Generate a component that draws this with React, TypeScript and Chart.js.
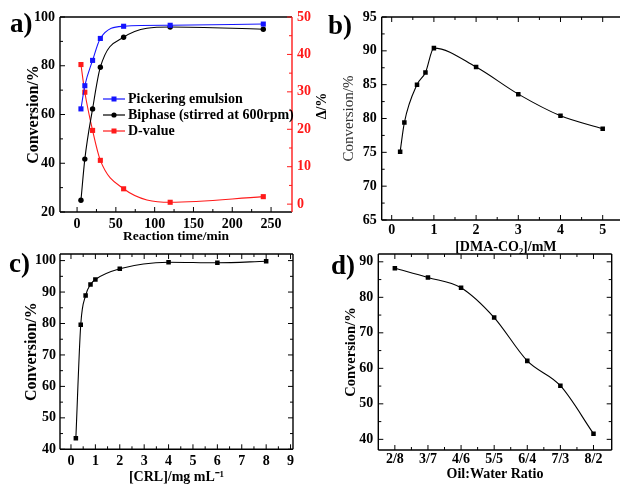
import React, { useEffect, useRef } from 'react';
import { Chart, registerables } from 'chart.js';
Chart.register(...registerables);

const FONT = "'Liberation Serif', 'Times New Roman', serif";
const BLUE = '#1414ff';
const RED = '#ff1a1a';
const BLACK = '#000000';

// ---- Panel a data ----
const timeMin = [5, 10, 20, 30, 60, 120, 240];
const pickering = [62.3, 71.8, 82.2, 91.2, 96.2, 96.6, 97.1];
const biphase = [24.8, 41.7, 62.3, 79.4, 91.7, 95.9, 95.0];
const dValue = [37.3, 29.9, 19.7, 11.7, 4.1, 0.5, 2.0];
const aTimeTicks = [0, 50, 100, 150, 200, 250];
const aTimeMinor = [25, 75, 125, 175, 225];
const aConvTicks = [20, 40, 60, 80, 100];
const aConvMinor = [30, 50, 70, 90];
const aDeltaTicks = [0, 10, 20, 30, 40, 50];
const aDeltaMinor = [5, 15, 25, 35, 45];

// ---- Panel b data ----
const dmaConc = [0.2, 0.3, 0.6, 0.8, 1, 2, 3, 4, 5];
const dmaConv = [75.1, 79.4, 85.0, 86.8, 90.4, 87.6, 83.6, 80.4, 78.5];
const bXTicks = [0, 1, 2, 3, 4, 5];
const bXMinor = [0.5, 1.5, 2.5, 3.5, 4.5, 5.5];
const bYTicks = [65, 70, 75, 80, 85, 90, 95];
const bYMinor = [67.5, 72.5, 77.5, 82.5, 87.5, 92.5];

// ---- Panel c data ----
const crlConc = [0.2, 0.4, 0.6, 0.8, 1, 2, 4, 6, 8];
const crlConv = [43.5, 79.6, 88.9, 92.4, 94.0, 97.4, 99.5, 99.3, 99.8];
const cXTicks = [0, 1, 2, 3, 4, 5, 6, 7, 8, 9];
const cXMinor = [0.5, 1.5, 2.5, 3.5, 4.5, 5.5, 6.5, 7.5, 8.5];
const cYTicks = [40, 50, 60, 70, 80, 90, 100];
const cYMinor = [45, 55, 65, 75, 85, 95];

// ---- Panel d data ----
const ratios = ['2/8', '3/7', '4/6', '5/5', '6/4', '7/3', '8/2'];
const ratioConv = [88.2, 85.6, 82.7, 74.3, 62.1, 55.1, 41.6];
const dXTicks = [0, 1, 2, 3, 4, 5, 6];
const dXMinor = [0.5, 1.5, 2.5, 3.5, 4.5, 5.5];
const dYTicks = [40, 50, 60, 70, 80, 90];
const dYMinor = [45, 55, 65, 75, 85];

const pts = (xs: number[], ys: number[]) => xs.map((x, i) => ({ x, y: ys[i] }));

function axis(o: any) {
  return {
    type: 'linear',
    position: o.position,
    min: o.min,
    max: o.max,
    grid: { display: false, drawTicks: false, tickLength: 0 },
    border: { display: false },
    afterBuildTicks: (s: any) => {
      s.ticks = o.ticks.map((v: number) => ({ value: v }));
    },
    afterFit: (s: any) => {
      if (s.isHorizontal()) s.height = o.size;
      else s.width = o.size;
    },
    ticks: {
      padding: o.pad,
      color: o.color || BLACK,
      autoSkip: false,
      maxRotation: 0,
      minRotation: 0,
      font: { family: FONT, size: 14, weight: 'bold' },
      callback: (v: number) => (o.labels ? o.labels[Math.round(v)] : String(v)),
    },
    title: o.title
      ? {
          display: true,
          text: o.title,
          padding: 0,
          color: o.titleColor || BLACK,
          font: { family: FONT, size: o.titleSize || 14, weight: o.titleWeight || 'bold' },
        }
      : { display: false },
  };
}

const framePlugin = {
  id: 'frame',
  afterDraw(chart: any, _a: any, opts: any) {
    const { ctx, chartArea } = chart;
    const { left, right, top, bottom } = chartArea;
    ctx.save();
    ctx.lineWidth = 1.4;
    const line = (x1: number, y1: number, x2: number, y2: number, c: string) => {
      ctx.strokeStyle = c;
      ctx.beginPath();
      ctx.moveTo(x1, y1);
      ctx.lineTo(x2, y2);
      ctx.stroke();
    };
    line(left, bottom, right, bottom, BLACK);
    line(left, top, left, bottom, BLACK);
    line(left, top, right, top, BLACK);
    line(right, top, right, bottom, opts.rightColor || BLACK);
    ctx.lineWidth = 1;
    const xs = chart.scales.x;
    const ys = chart.scales.y;
    const doX = (vals: number[], len: number) => {
      vals.forEach((v) => {
        const p = xs.getPixelForValue(v);
        line(p, bottom, p, bottom - len, BLACK);
        if (opts.mirror) line(p, top, p, top + len, BLACK);
      });
    };
    const doY = (vals: number[], len: number) => {
      vals.forEach((v) => {
        const p = ys.getPixelForValue(v);
        line(left, p, left + len, p, BLACK);
        if (opts.mirror) line(right, p, right - len, p, BLACK);
      });
    };
    doX(opts.xMajor, 5);
    doX(opts.xMinor, 3);
    doY(opts.yMajor, 5);
    doY(opts.yMinor, 3);
    if (opts.y2Major) {
      const y2 = chart.scales.y2;
      opts.y2Major.forEach((v: number) => {
        const p = y2.getPixelForValue(v);
        line(right - 5, p, right, p, RED);
      });
      opts.y2Minor.forEach((v: number) => {
        const p = y2.getPixelForValue(v);
        line(right - 3, p, right, p, RED);
      });
    }
    ctx.restore();
  },
};

const legendPlugin = {
  id: 'inLegend',
  afterDraw(chart: any, _a: any, opts: any) {
    const { ctx } = chart;
    ctx.save();
    ctx.font = `bold 14px ${FONT}`;
    ctx.textBaseline = 'middle';
    chart.data.datasets.forEach((ds: any, i: number) => {
      const y = opts.y + i * opts.dy;
      const c = ds.borderColor;
      ctx.strokeStyle = c;
      ctx.fillStyle = c;
      ctx.lineWidth = 1.2;
      ctx.beginPath();
      ctx.moveTo(opts.x, y);
      ctx.lineTo(opts.x + 22, y);
      ctx.stroke();
      const cx = opts.x + 11;
      if (ds.pointStyle === 'circle') {
        ctx.beginPath();
        ctx.arc(cx, y, 2.6, 0, Math.PI * 2);
        ctx.fill();
      } else {
        ctx.fillRect(cx - 2.5, y - 2.5, 5, 5);
      }
      ctx.fillStyle = BLACK;
      ctx.fillText(ds.label, opts.x + 25, y + 0.5);
    });
    ctx.restore();
  },
};

const lineDs = (label: string, data: any[], color: string, style: string, r: number, yAxisID = 'y') => ({
  label,
  data,
  yAxisID,
  borderColor: color,
  backgroundColor: color,
  pointStyle: style,
  pointRadius: r,
  pointBorderWidth: 0,
  showLine: true,
  borderWidth: 1.1,
  cubicInterpolationMode: 'monotone',
});

const baseOpts = (padding: any) => ({
  animation: false,
  responsive: false,
  devicePixelRatio: 1,
  layout: { padding },
});

function buildA(): any {
  return {
    type: 'scatter',
    data: {
      datasets: [
        lineDs('Pickering emulsion', pts(timeMin, pickering), BLUE, 'rect', 3.6),
        lineDs('Biphase (stirred at 600rpm)', pts(timeMin, biphase), BLACK, 'circle', 2.7),
        lineDs('D-value', pts(timeMin, dValue), RED, 'rect', 3.6, 'y2'),
      ],
    },
    options: {
      ...baseOpts({ left: 23.8, top: 17, right: 0, bottom: 0 }),
      plugins: {
        legend: { display: false },
        tooltip: { enabled: false },
        frame: { xMajor: aTimeTicks, xMinor: aTimeMinor, yMajor: aConvTicks, yMinor: aConvMinor, y2Major: aDeltaTicks, y2Minor: aDeltaMinor, rightColor: RED, mirror: false },
        inLegend: { x: 103, y: 99, dy: 16 },
      },
      scales: {
        x: axis({ position: 'bottom', min: -22, max: 277, ticks: aTimeTicks, size: 33, pad: 4, title: 'Reaction time/min', titleSize: 13.5 }),
        y: axis({ position: 'left', min: 20, max: 100, ticks: aConvTicks, size: 36.2, pad: 5, title: 'Conversion/%', titleSize: 16 }),
        y2: axis({ position: 'right', min: -2.1, max: 50, ticks: aDeltaTicks, size: 38, pad: 5, color: RED }),
      },
    },
    plugins: [framePlugin, legendPlugin],
  };
}

function buildB(): any {
  return {
    type: 'scatter',
    data: { datasets: [lineDs('b', pts(dmaConc, dmaConv), BLACK, 'rect', 3.2)] },
    options: {
      ...baseOpts({ left: 9.6, top: 17, right: 10, bottom: 0 }),
      plugins: {
        legend: { display: false },
        tooltip: { enabled: false },
        frame: { xMajor: bXTicks, xMinor: bXMinor, yMajor: bYTicks, yMinor: bYMinor, mirror: true },
      },
      scales: {
        x: axis({ position: 'bottom', min: -0.237, max: 5.647, ticks: bXTicks, size: 36, pad: 2, title: '[DMA-CO₂]/mM' }),
        y: axis({ position: 'left', min: 65, max: 95, ticks: bYTicks, size: 42.1, pad: 5, title: 'Conversion/%', titleWeight: 'normal', titleColor: '#333', titleSize: 15 }),
      },
    },
    plugins: [framePlugin],
  };
}

function buildC(): any {
  return {
    type: 'scatter',
    data: { datasets: [lineDs('c', pts(crlConc, crlConv), BLACK, 'rect', 3.2)] },
    options: {
      ...baseOpts({ left: 22.4, top: 14, right: 7, bottom: 0 }),
      plugins: {
        legend: { display: false },
        tooltip: { enabled: false },
        frame: { xMajor: cXTicks, xMinor: cXMinor, yMajor: cYTicks, yMinor: cYMinor, mirror: true },
      },
      scales: {
        x: axis({ position: 'bottom', min: -0.45, max: 9.1, ticks: cXTicks, size: 36.7, pad: 4, title: '[CRL]/mg mL⁻¹' }),
        y: axis({ position: 'left', min: 40, max: 102.1, ticks: cYTicks, size: 37.6, pad: 4, title: 'Conversion/%', titleSize: 16 }),
      },
    },
    plugins: [framePlugin],
  };
}

function buildD(): any {
  return {
    type: 'scatter',
    data: { datasets: [lineDs('d', pts(dXTicks, ratioConv), BLACK, 'rect', 3.2)] },
    options: {
      ...baseOpts({ left: 12.6, top: 14, right: 8.3, bottom: 0 }),
      plugins: {
        legend: { display: false },
        tooltip: { enabled: false },
        frame: { xMajor: dXTicks, xMinor: dXMinor, yMajor: dYTicks, yMinor: dYMinor, mirror: true },
      },
      scales: {
        x: axis({ position: 'bottom', min: -0.5, max: 6.55, ticks: dXTicks, labels: ratios, size: 33, pad: 1, title: 'Oil:Water Ratio' }),
        y: axis({ position: 'left', min: 37, max: 92.2, ticks: dYTicks, size: 35.7, pad: 5, title: 'Conversion/%', titleSize: 14.5 }),
      },
    },
    plugins: [framePlugin],
  };
}

function ChartCanvas(props: { left: number; top: number; width: number; height: number; build: () => any }) {
  const ref = useRef<HTMLCanvasElement>(null);
  useEffect(() => {
    const chart = new Chart(ref.current as HTMLCanvasElement, props.build());
    return () => chart.destroy();
  }, []);
  return (
    <canvas
      ref={ref}
      width={props.width}
      height={props.height}
      style={{ position: 'absolute', left: props.left, top: props.top, width: props.width, height: props.height }}
    />
  );
}

const letterStyle = (left: number, top: number): React.CSSProperties => ({
  position: 'absolute',
  left,
  top,
  fontFamily: FONT,
  fontWeight: 'bold',
  fontSize: 27,
  lineHeight: '27px',
  color: BLACK,
  whiteSpace: 'nowrap',
});

export default function App() {
  return (
    <div
      style={{
        position: 'absolute',
        left: 0,
        top: 0,
        width: 620,
        height: 486,
        overflow: 'hidden',
        background: '#fff',
      }}
    >
      <ChartCanvas left={0} top={0} width={330} height={245} build={buildA} />
      <ChartCanvas left={330} top={0} width={310} height={256} build={buildB} />
      <ChartCanvas left={0} top={240} width={300} height={246} build={buildC} />
      <ChartCanvas left={330} top={240} width={290} height={243} build={buildD} />
      <div style={letterStyle(10, 10)}>a)</div>
      <div style={letterStyle(328, 12)}>b)</div>
      <div style={letterStyle(9, 250)}>c)</div>
      <div style={letterStyle(331, 252)}>d)</div>
      <div
        style={{
          position: 'absolute',
          left: 302,
          top: 96,
          width: 40,
          height: 20,
          lineHeight: '20px',
          textAlign: 'center',
          transform: 'rotate(-90deg)',
          fontFamily: FONT,
          fontWeight: 'bold',
          fontSize: 14,
          color: BLACK,
        }}
      >
        Δ/%
      </div>
    </div>
  );
}
